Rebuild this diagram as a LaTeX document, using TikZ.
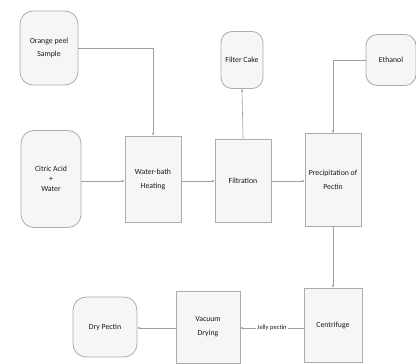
\documentclass[tikz,border=0pt]{standalone}
\usepackage{fontspec}
\setmainfont{Carlito}
\usetikzlibrary{arrows.meta}
\tikzset{
  procbox/.style={draw=gray!65, line width=0.8pt, fill=gray!7, align=center, inner sep=1pt, font=\fontsize{7.8}{10}\selectfont, text=black!90},
  termbox/.style={procbox, rounded corners=13pt},
  flow/.style={draw=gray!75, line width=0.6pt, -{Stealth[length=3pt,width=2.6pt]}}
}
\begin{document}
\begin{tikzpicture}[x=1pt,y=-1pt]
\useasboundingbox (0,0) rectangle (416,364);
\node[termbox, minimum width=58pt, minimum height=74pt] (orange) at (49,48) {Orange peel\\[3pt]Sample};
\node[termbox, minimum width=60pt, minimum height=97pt] (citric) at (51,179) {Citric Acid\\+\\Water};
\node[procbox, minimum width=56pt, minimum height=86pt] (water) at (153,179) {Water-bath\\[4pt]Heating};
\node[procbox, minimum width=56pt, minimum height=83pt] (filt) at (243,180.5) {Filtration};
\node[termbox, rounded corners=11pt, minimum width=42pt, minimum height=57pt] (cake) at (242,60) {Filter Cake};
\node[termbox, rounded corners=11pt, minimum width=50pt, minimum height=51pt] (eth) at (391,60) {Ethanol};
\node[procbox, minimum width=56pt, minimum height=93pt] (prec) at (333,180) {Precipitation of\\[4pt]Pectin};
\node[procbox, minimum width=58pt, minimum height=74pt] (cent) at (333,325) {Centrifuge};
\node[procbox, minimum width=64pt, minimum height=72pt] (vac) at (208,327) {Vacuum\\[4pt]Drying};
\node[termbox, minimum width=64pt, minimum height=60pt] (dry) at (105,327) {Dry Pectin};

\draw[flow] (orange.east) -| (water.north);
\draw[flow] (citric.east |- 0,181) -- (water.west |- 0,181);
\draw[flow] (water.east |- 0,181) -- (filt.west |- 0,181);
\draw[flow] (filt.east |- 0,181) -- (prec.west |- 0,181);
\draw[flow] (filt.north) -- (cake.south);
\draw[flow] (eth.west) -| (prec.north);
\draw[flow] (prec.south) -- (cent.north);
\draw[flow] (cent.west |- 0,328) -- node[fill=white, inner sep=1pt, font=\fontsize{6.5}{7}\selectfont, text=black!90] {Jelly pectin} (vac.east |- 0,328);
\draw[flow] (vac.west |- 0,328) -- (dry.east |- 0,328);
\end{tikzpicture}
\end{document}
